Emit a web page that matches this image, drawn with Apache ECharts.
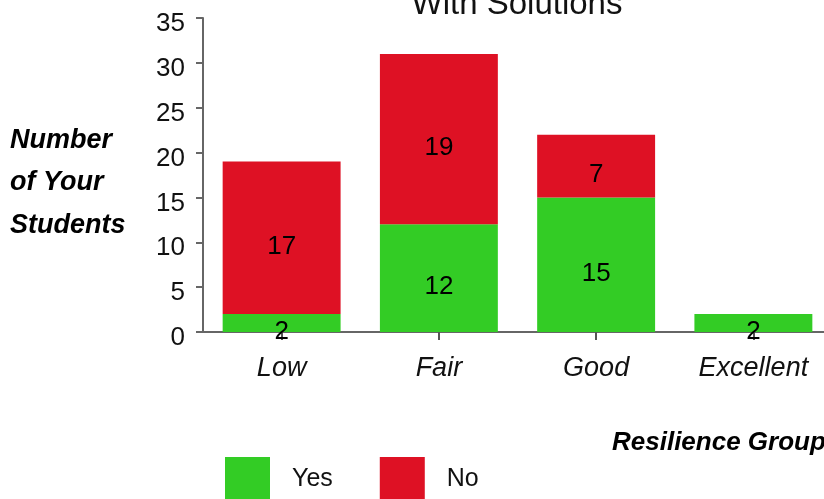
<!DOCTYPE html>
<html>
<head>
<meta charset="utf-8">
<script src="https://cdn.jsdelivr.net/npm/echarts@6/dist/echarts.min.js"></script>
<style>
  html, body { margin: 0; padding: 0; background: #fff; }
  #main { width: 824px; height: 499px; }
</style>
</head>
<body>
<div id="main"></div>
<script>
var categories = ['Low', 'Fair', 'Good', 'Excellent'];
var yesValues = [2, 12, 15, 2];
var noValues = [17, 19, 7, 0];
var seriesNames = ['Yes', 'No'];
var yTicks = { min: 0, max: 35, interval: 5 };

var font = 'Liberation Sans, Arial, Helvetica, sans-serif';

var myChart = echarts.init(document.getElementById('main'));

// hide the zero segment label
function labelFmt(p) {
  return p.value ? String(p.value) : '';
}

var option = {
  animation: false,
  color: ['#33CC25', '#DE1124'],
  title: {
    text: 'With Solutions',
    left: 512,
    top: -17,
    textAlign: 'center',
    textStyle: { fontFamily: font, fontWeight: 'normal', fontSize: 33, color: '#111' }
  },
  grid: {
    left: 203,
    width: 629,
    top: 18,
    bottom: 167,
    containLabel: false,
    outerBoundsMode: 'none'
  },
  legend: {
    left: 220,
    top: 452,
    itemWidth: 45,
    itemHeight: 45,
    itemGap: 47,
    icon: 'rect',
    data: seriesNames,
    textStyle: { fontFamily: font, fontSize: 25, color: '#111', padding: [0, 0, 0, 17] }
  },
  xAxis: {
    type: 'category',
    data: categories,
    axisLine: { lineStyle: { color: '#666', width: 2 } },
    axisTick: { show: true, alignWithLabel: true, length: 8, lineStyle: { color: '#555', width: 2 } },
    axisLabel: { fontFamily: font, fontStyle: 'italic', fontSize: 27, color: '#111', margin: 23 }
  },
  yAxis: {
    type: 'value',
    min: yTicks.min,
    max: yTicks.max,
    interval: yTicks.interval,
    splitLine: { show: false },
    axisLine: { show: true, lineStyle: { color: '#666', width: 2 } },
    axisTick: { show: true, length: 7, lineStyle: { color: '#666', width: 2 } },
    axisLabel: { fontFamily: font, fontSize: 26, color: '#111', margin: 18, verticalAlign: 'top', lineHeight: 12 }
  },
  graphic: [
    {
      type: 'text',
      left: 10,
      top: 119,
      style: {
        text: 'Number\nof Your\nStudents',
        font: 'italic bold 27px ' + font,
        lineHeight: 42.5,
        fill: '#000'
      }
    },
    {
      type: 'text',
      left: 612,
      top: 430,
      style: {
        text: 'Resilience Group',
        font: 'italic bold 26px ' + font,
        fill: '#000'
      }
    }
  ],
  series: [
    {
      name: seriesNames[0],
      type: 'bar',
      stack: 'total',
      barWidth: '75%',
      data: yesValues,
      label: {
        show: true,
        position: 'inside',
        offset: [0, 9],
        formatter: labelFmt,
        fontFamily: font,
        fontSize: 26,
        color: '#000'
      }
    },
    {
      name: seriesNames[1],
      type: 'bar',
      stack: 'total',
      barWidth: '75%',
      data: noValues,
      label: {
        show: true,
        position: 'inside',
        offset: [0, 9],
        formatter: labelFmt,
        fontFamily: font,
        fontSize: 26,
        color: '#000'
      }
    }
  ]
};

myChart.setOption(option);
</script>
</body>
</html>
